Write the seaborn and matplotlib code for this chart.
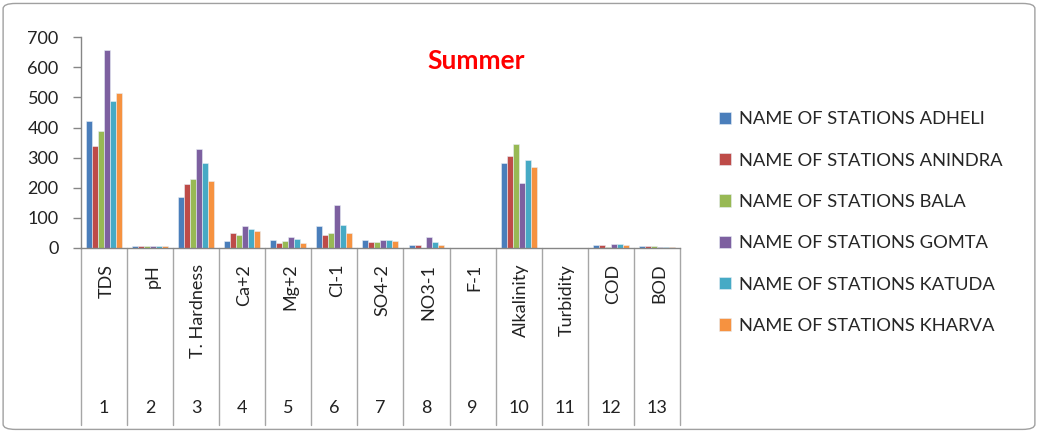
import pandas as pd
import seaborn as sns
import matplotlib.pyplot as plt
import matplotlib.transforms as mtransforms
from matplotlib.patches import FancyBboxPatch

# Data
parameters = ["TDS", "pH", "T. Hardness", "Ca+2", "Mg+2", "Cl-1", "SO4-2",
              "NO3-1", "F-1", "Alkalinity", "Turbidity", "COD", "BOD"]
numbers = ["1", "2", "3", "4", "5", "6", "7", "8", "9", "10", "11", "12", "13"]
stations = ["NAME OF STATIONS ADHELI", "NAME OF STATIONS ANINDRA",
            "NAME OF STATIONS BALA", "NAME OF STATIONS GOMTA",
            "NAME OF STATIONS KATUDA", "NAME OF STATIONS KHARVA"]
adheli = [420, 7, 168, 24, 27, 72, 27, 11, 0.5, 281, 1, 9, 5]
anindra = [340, 7, 213, 51, 15, 43, 19, 9, 0.5, 304, 1, 9, 5]
bala = [390, 7, 229, 43, 23, 51, 19, 1, 0.5, 345, 1, 4, 5]
gomta = [657, 7, 330, 73, 35, 143, 27, 35, 0.5, 216, 1, 13, 4]
katuda = [488, 7, 281, 62, 31, 76, 27, 19, 0.5, 292, 1, 13, 3]
kharva = [514, 7, 224, 57, 15, 51, 23, 9, 0.5, 268, 1, 9, 3]
colors = ["#4a7ebb", "#be4b48", "#98b954", "#7d60a0", "#46aac5", "#f69240"]

df = pd.DataFrame({"Parameter": parameters})
for name, vals in zip(stations, [adheli, anindra, bala, gomta, katuda, kharva]):
    df[name] = vals
long = df.melt(id_vars="Parameter", var_name="Station", value_name="Value")

sns.set_theme(style="white")
plt.rcParams['font.family'] = ['Lato', 'DejaVu Sans']

fig = plt.figure(figsize=(10.38, 4.32), dpi=100)
ax = fig.add_axes([0.078, 0.426, 0.577, 0.488])

sns.barplot(data=long, x="Parameter", y="Value", hue="Station",
            palette=colors, width=0.78, gap=0, saturation=1,
            edgecolor="#e8eef6", linewidth=0.4, ax=ax)

handles, labels = ax.get_legend_handles_labels()
ax.get_legend().remove()

ax.set_ylim(0, 700)
ax.set_yticks(range(0, 701, 100))
ax.set_xlim(-0.5, len(parameters) - 0.5)
ax.set_xticks([])
ax.set_xlabel("")
ax.set_ylabel("")
for s in ["top", "right"]:
    ax.spines[s].set_visible(False)
for s in ["left", "bottom"]:
    ax.spines[s].set_color("#868686")
    ax.spines[s].set_linewidth(1)
ax.tick_params(axis="y", left=True, length=6, width=1, color="#868686",
               labelsize=13, pad=10, labelcolor="#222222")

# multi-level category axis below the plot
trans = mtransforms.blended_transform_factory(ax.transData, ax.transAxes)
for i in range(len(parameters) + 1):
    ax.plot([i - 0.5, i - 0.5], [0, -0.84], transform=trans, color="#a6a6a6",
            linewidth=1, clip_on=False)
for i, (p, n) in enumerate(zip(parameters, numbers)):
    ax.text(i + 0.05, -0.075, p, transform=trans, rotation=90, ha="center",
            va="top", fontsize=13, color="#222222")
    ax.text(i, -0.76, n, transform=trans, ha="center", va="center",
            fontsize=13, color="#222222")

fig.text(476 / 1038, 1 - 61 / 432, "Summer", color="#ff0000", fontsize=19,
         fontweight="bold", ha="center", va="center")

fig.legend(handles, labels, loc="upper left",
           bbox_to_anchor=(712 / 1038, 1 - 104 / 432), frameon=False,
           fontsize=13.2, handlelength=0.65, handleheight=0.65,
           handletextpad=0.4, labelspacing=1.38, borderaxespad=0)

fig.patches.append(FancyBboxPatch((0.003, 0.006), 0.994, 0.986,
                                  boxstyle="round,pad=0,rounding_size=0.012",
                                  transform=fig.transFigure, fill=False,
                                  edgecolor="#a0a0a0", linewidth=1))

fig.savefig("out.png", dpi=100)
